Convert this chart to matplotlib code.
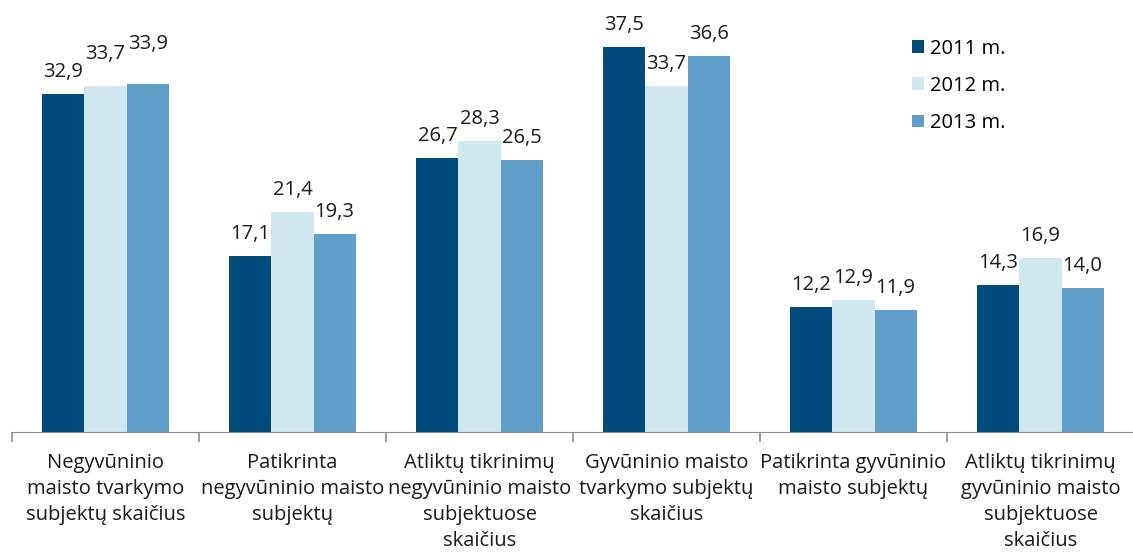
import matplotlib
matplotlib.use("Agg")
import matplotlib.pyplot as plt
import numpy as np

plt.rcParams['font.family'] = ['Open Sans', 'DejaVu Sans']

categories = ["Negyvūninio\nmaisto tvarkymo\nsubjektų skaičius",
              "Patikrinta\nnegyvūninio maisto\nsubjektų",
              "Atliktų tikrinimų\nnegyvūninio maisto\nsubjektuose\nskaičius",
              "Gyvūninio maisto\ntvarkymo subjektų\nskaičius",
              "Patikrinta gyvūninio\nmaisto subjektų",
              "Atliktų tikrinimų\ngyvūninio maisto\nsubjektuose\nskaičius"]
years = ["2011 m.", "2012 m.", "2013 m."]
v2011 = [32.9, 17.1, 26.7, 37.5, 12.2, 14.3]
v2012 = [33.7, 21.4, 28.3, 33.7, 12.9, 16.9]
v2013 = [33.9, 19.3, 26.5, 36.6, 11.9, 14.0]
colors = ["#004a7c", "#cfe8ef", "#5f9ec9"]

# label nudges (pixels) where the labels were pushed up to avoid overlap
nudge = {(0, 1): 10, (0, 2): 18}

fig = plt.figure(figsize=(11.33, 5.55), dpi=100)
ax = fig.add_axes([12/1133, 123/555, 1122/1133, 432/555])

x = np.arange(len(categories))
w = 0.225
for i, (vals, lab) in enumerate(zip([v2011, v2012, v2013], years)):
    pos = x + (i - 1) * w
    ax.bar(pos, vals, w, color=colors[i], label=lab)
    for j, (p, v) in enumerate(zip(pos, vals)):
        ax.annotate(f"{v:.1f}".replace(".", ","), (p, v),
                    xytext=(0, (22 + nudge.get((j, i), 0)) * 0.72), textcoords='offset points',
                    ha='center', va='center', fontsize=14.5, color='#1a1a1a')

ax.set_xlim(-0.5, len(categories) - 0.5)
ax.set_ylim(0, 42.06)
for s in ['top', 'right', 'left']:
    ax.spines[s].set_visible(False)
ax.spines['bottom'].set_color('#8c8c8c')
ax.set_yticks([])
ax.set_xticks(x)
ax.set_xticklabels(categories, fontsize=14.5, color='#1a1a1a', linespacing=1.4)
ax.tick_params(axis='x', which='major', length=0, pad=15)
ax.set_xticks(np.arange(len(categories) + 1) - 0.5, minor=True)
ax.tick_params(axis='x', which='minor', length=7, color='#8c8c8c', width=1.2)

ax.legend(loc='upper left', bbox_to_anchor=(0.786, 0.952), frameon=False, fontsize=14.5,
          handlelength=0.6, handleheight=0.6, labelspacing=0.85, handletextpad=0.3)

plt.savefig("out.png", dpi=100)
